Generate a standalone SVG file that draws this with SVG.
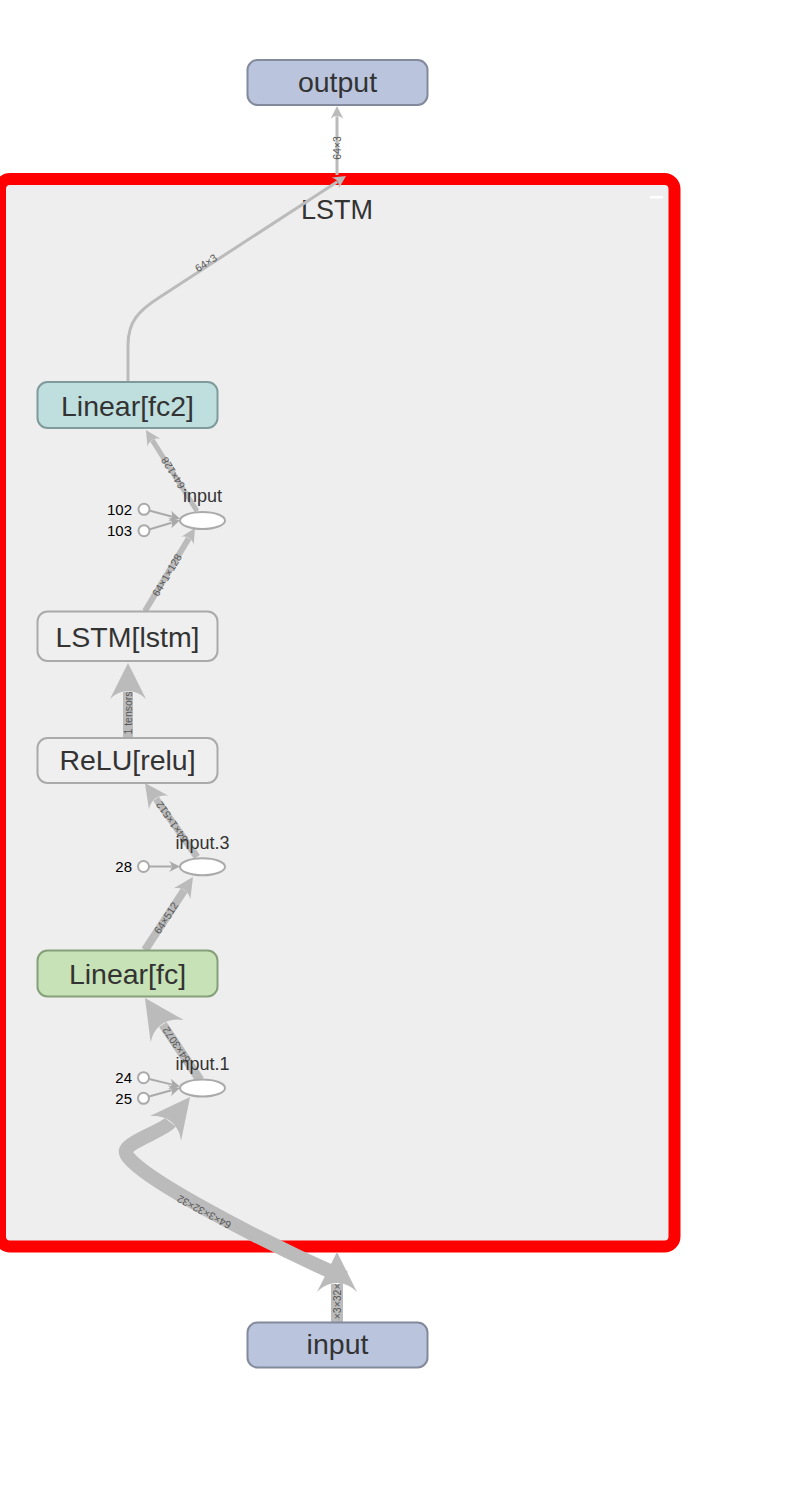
<svg xmlns="http://www.w3.org/2000/svg" width="795" height="1487" viewBox="0 0 795 1487">
<defs>
<style>
.lbl{font-family:"Liberation Sans",Arial,sans-serif;font-size:28.5px;fill:#333;text-anchor:middle}
.title{font-family:"Liberation Sans",Arial,sans-serif;font-size:27px;fill:#333;text-anchor:middle}
.op{fill:#fff;stroke:#aaa;stroke-width:2}
.oplbl{font-family:"Liberation Sans",Arial,sans-serif;font-size:18px;fill:#333;text-anchor:middle}
.cst{fill:#fff;stroke:#aaa;stroke-width:2}
.clbl{font-family:"Liberation Sans",Arial,sans-serif;font-size:15px;fill:#000;text-anchor:end}
.edge{fill:none;stroke:#bbb}
.cedge{fill:none;stroke:#aaa;stroke-width:2}
.elbl{font-family:"Liberation Sans",Arial,sans-serif;font-size:10.5px;fill:#555;text-anchor:middle}
.nrect{stroke-width:2}
</style>
<marker id="ah11" viewBox="0 0 10 10" refX="2" refY="5" markerWidth="11" markerHeight="11" orient="auto" markerUnits="userSpaceOnUse"><path d="M0,0 L10,5 L0,10 C3,7 3,3 0,0 Z" fill="#aaa"/></marker>
<marker id="ah13" viewBox="0 0 10 10" refX="2" refY="5" markerWidth="13" markerHeight="13" orient="auto" markerUnits="userSpaceOnUse"><path d="M0,0 L10,5 L0,10 C3,7 3,3 0,0 Z" fill="#bbb"/></marker>
<marker id="ah15" viewBox="0 0 10 10" refX="2" refY="5" markerWidth="15" markerHeight="15" orient="auto" markerUnits="userSpaceOnUse"><path d="M0,0 L10,5 L0,10 C3,7 3,3 0,0 Z" fill="#bbb"/></marker>
<marker id="ah20" viewBox="0 0 10 10" refX="2" refY="5" markerWidth="20" markerHeight="20" orient="auto" markerUnits="userSpaceOnUse"><path d="M0,0 L10,5 L0,10 C3,7 3,3 0,0 Z" fill="#bbb"/></marker>
<marker id="ah24" viewBox="0 0 10 10" refX="2" refY="5" markerWidth="24" markerHeight="24" orient="auto" markerUnits="userSpaceOnUse"><path d="M0,0 L10,5 L0,10 C3,7 3,3 0,0 Z" fill="#bbb"/></marker>
<marker id="ah36" viewBox="0 0 10 10" refX="2" refY="5" markerWidth="36" markerHeight="36" orient="auto" markerUnits="userSpaceOnUse"><path d="M0,0 L10,5 L0,10 C3,7 3,3 0,0 Z" fill="#bbb"/></marker>
<marker id="ah40" viewBox="0 0 10 10" refX="2" refY="5" markerWidth="40" markerHeight="40" orient="auto" markerUnits="userSpaceOnUse"><path d="M0,0 L10,5 L0,10 C3,7 3,3 0,0 Z" fill="#bbb"/></marker>
<clipPath id="clipIn"><rect x="320" y="1284" width="40" height="36"/></clipPath>
</defs>
<rect x="0" y="0" width="795" height="1487" fill="#fff"/>

<g id="cluster-LSTM">
<rect x="0" y="179" width="674.5" height="1067.5" rx="10" fill="#eee" stroke="#f00" stroke-width="12"/>
<text x="337" y="219" class="title">LSTM</text>
<rect x="650" y="196" width="13" height="2.5" fill="#fff"/>
</g>

<g id="connectors">
<path class="edge" stroke-width="3" d="M128 382 L128 345 C128 322 138 311 160 297 L337.3 181.7" marker-end="url(#ah13)"/>
<path class="edge" stroke-width="3" d="M337 175 L337 116.4" marker-end="url(#ah13)"/>
<path class="edge" stroke-width="5" d="M197 511 L152.3 440.2" marker-end="url(#ah15)"/>
<path class="edge" stroke-width="6" d="M145 611 L188.8 538.3" marker-end="url(#ah15)"/>
<path class="edge" stroke-width="10" d="M128 738 L128 691.8" marker-end="url(#ah36)"/>
<path class="edge" stroke-width="7" d="M197 857 L156 798.7" marker-end="url(#ah24)"/>
<path class="edge" stroke-width="8" d="M145 950 L184.2 890.4" marker-end="url(#ah20)"/>
<path class="edge" stroke-width="9" d="M200 1080 L162.8 1024.6" marker-end="url(#ah40)"/>
<path class="edge" stroke-width="14" d="M345 1278 C270 1245 118 1168 126 1150 C130 1141 164.1 1130.1 170.3 1122.2" marker-end="url(#ah40)"/>
<path class="edge" stroke-width="12" d="M337 1322 L337 1284" marker-end="url(#ah40)"/>
<path class="cedge" d="M149 510.5 L171.6 516.5" marker-end="url(#ah11)"/>
<path class="cedge" d="M149 529.5 L171.6 522.7" marker-end="url(#ah11)"/>
<path class="cedge" d="M149 866.5 L171.2 866.5" marker-end="url(#ah11)"/>
<path class="cedge" d="M149 1079 L171.4 1084.4" marker-end="url(#ah11)"/>
<path class="cedge" d="M149 1096.5 L171.5 1090.3" marker-end="url(#ah11)"/>
<text class="elbl" transform="translate(206 263) rotate(-33)" dy="0.35em">64×3</text>
<text class="elbl" transform="translate(337 148) rotate(-90)" dy="0.35em">64×3</text>
<text class="elbl" transform="translate(173 473) rotate(-122)" dy="0.35em">64×128</text>
<text class="elbl" transform="translate(167 575) rotate(-59)" dy="0.35em">64×1×128</text>
<text class="elbl" transform="translate(128 713) rotate(-90)" dy="0.35em">1 tensors</text>
<text class="elbl" transform="translate(172 822) rotate(-125)" dy="0.35em">64×1×512</text>
<text class="elbl" transform="translate(166 918) rotate(-57)" dy="0.35em">64×512</text>
<text class="elbl" transform="translate(176.5 1045) rotate(-124)" dy="0.35em">64×3072</text>
<text class="elbl" transform="translate(204 1212) rotate(-152)" dy="0.35em">64×3×32×32</text>
<g clip-path="url(#clipIn)"><text class="elbl" style="text-anchor:start" transform="translate(337 1331) rotate(-90)" dy="0.35em">64×3×32×32</text></g>
</g>

<g id="node-output">
<rect class="nrect" x="247.5" y="60" width="180" height="45" rx="10" fill="#bac5dd" stroke="#838a9c"/>
<text class="lbl" x="337.5" y="92">output</text>
</g>
<g id="node-fc2">
<rect class="nrect" x="37.5" y="382" width="180" height="46" rx="10" fill="#bfdfdf" stroke="#7f9b9b"/>
<text class="lbl" x="127.5" y="415.5">Linear[fc2]</text>
</g>
<g id="node-input-op">
<ellipse class="op" cx="202.5" cy="520.5" rx="22.5" ry="8.5"/>
<text class="oplbl" x="202.5" y="501.5">input</text>
</g>
<g id="node-102">
<circle class="cst" cx="144" cy="509.3" r="5.5"/>
<text class="clbl" x="132" y="515">102</text>
</g>
<g id="node-103">
<circle class="cst" cx="144" cy="530.7" r="5.5"/>
<text class="clbl" x="132" y="536">103</text>
</g>
<g id="node-lstm">
<rect class="nrect" x="37.5" y="611.5" width="180" height="49.5" rx="10" fill="#efefef" stroke="#aaa"/>
<text class="lbl" x="127.5" y="646.5">LSTM[lstm]</text>
</g>
<g id="node-relu">
<rect class="nrect" x="37.5" y="738" width="180" height="45" rx="10" fill="#efefef" stroke="#aaa"/>
<text class="lbl" x="127.5" y="770">ReLU[relu]</text>
</g>
<g id="node-input3">
<ellipse class="op" cx="202.5" cy="866.7" rx="22.5" ry="8.5"/>
<text class="oplbl" x="202.5" y="849">input.3</text>
</g>
<g id="node-28">
<circle class="cst" cx="143.5" cy="866.5" r="5.5"/>
<text class="clbl" x="132" y="872">28</text>
</g>
<g id="node-fc">
<rect class="nrect" x="37.5" y="950.5" width="180" height="46" rx="10" fill="#c6e2b6" stroke="#86a07a"/>
<text class="lbl" x="127.5" y="983.5">Linear[fc]</text>
</g>
<g id="node-input1">
<ellipse class="op" cx="202.5" cy="1088" rx="22.5" ry="8.5"/>
<text class="oplbl" x="202.5" y="1070">input.1</text>
</g>
<g id="node-24">
<circle class="cst" cx="143.5" cy="1077.7" r="5.5"/>
<text class="clbl" x="132" y="1083.3">24</text>
</g>
<g id="node-25">
<circle class="cst" cx="143.5" cy="1098.3" r="5.5"/>
<text class="clbl" x="132" y="1104">25</text>
</g>
<g id="node-input">
<rect class="nrect" x="247.5" y="1322.5" width="180" height="45" rx="10" fill="#bac5dd" stroke="#838a9c"/>
<text class="lbl" x="337.5" y="1354">input</text>
</g>
</svg>
